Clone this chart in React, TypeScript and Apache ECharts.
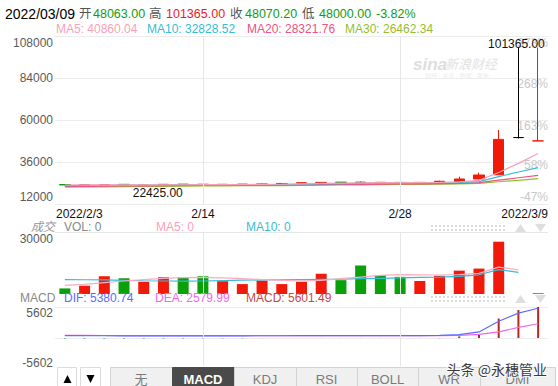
import { useEffect, useRef } from 'react';
import * as echarts from 'echarts';

const FONT = '"Liberation Sans", Arial, "Noto Sans CJK SC", sans-serif';

// ---------- data ----------
const dates = [
  '2022/2/3', '2022/2/4', '2022/2/7', '2022/2/8', '2022/2/9', '2022/2/10', '2022/2/11',
  '2022/2/14', '2022/2/15', '2022/2/16', '2022/2/17', '2022/2/18', '2022/2/21', '2022/2/22',
  '2022/2/23', '2022/2/24', '2022/2/25', '2022/2/28', '2022/3/1', '2022/3/2', '2022/3/3',
  '2022/3/4', '2022/3/7', '2022/3/8', '2022/3/9',
];
const opens = [23100, 22800, 22950, 23250, 22700, 22900, 23350, 23300, 23000, 23150, 23300, 23350, 23800, 24050, 24500, 24500, 24400, 24350, 24200, 24400, 24750, 26300, 28690, 49979, 48063];
const closes = [22900, 23000, 23050, 22950, 22850, 23250, 23100, 23050, 23250, 23350, 23400, 23750, 24150, 24350, 24250, 24250, 24150, 24150, 24350, 25000, 26300, 28580, 48920, 49979, 48070.2];
const lows = [22750, 22700, 22850, 22850, 22425, 22850, 23050, 23000, 22950, 23100, 23250, 23300, 23750, 24000, 24200, 24150, 24100, 24100, 24150, 24350, 24600, 26100, 28500, 49400, 48000];
const highs = [23200, 23100, 23300, 23300, 22950, 23300, 23400, 23350, 23300, 23400, 23600, 23800, 24200, 24400, 24550, 24900, 24450, 24400, 24600, 25300, 27600, 29900, 54300, 101365, 101365];
const flatIndex = 23;

const ma5 = [22850, 22900, 22950, 22950, 22900, 22950, 23000, 23050, 23100, 23150, 23250, 23350, 23550, 23750, 23950, 24100, 24200, 24250, 24300, 24350, 24700, 25500, 30000, 35200, 40860.04];
const ma10 = [22500, 22600, 22700, 22750, 22800, 22850, 22900, 22950, 23000, 23050, 23100, 23150, 23300, 23450, 23600, 23750, 23850, 23950, 24050, 24150, 24300, 24800, 27600, 30300, 32828.52];
const ma20 = [22000, 22100, 22200, 22300, 22400, 22500, 22600, 22650, 22700, 22750, 22800, 22850, 22950, 23050, 23150, 23250, 23350, 23450, 23550, 23650, 23800, 24200, 25600, 27000, 28321.76];
const ma30 = [21600, 21700, 21800, 21900, 22000, 22100, 22200, 22300, 22400, 22450, 22500, 22550, 22650, 22750, 22850, 22950, 23050, 23150, 23250, 23350, 23500, 23800, 24700, 25500, 26462.34];

const volumes = [2700, 4000, 8600, 7600, 5900, 8100, 8100, 8600, 6200, 4800, 6500, 4800, 5900, 9800, 6700, 13800, 9100, 8300, 6300, 8800, 11300, 12300, 25300, 0, 350];
const volMa5 = [4200, 4700, 5500, 6300, 7000, 7600, 7900, 8000, 7800, 7400, 7000, 6600, 6300, 6600, 7400, 8200, 9000, 9400, 9300, 9200, 9400, 10000, 13000, 11700, null];
const volMa10 = [7000, 6900, 6800, 6600, 6400, 6300, 6200, 6300, 6500, 6700, 6800, 6900, 7000, 7100, 7200, 7400, 7600, 7800, 8000, 8200, 8500, 9300, 11800, 10500, null];

const dif = [420, 410, 405, 400, 395, 390, 390, 390, 395, 400, 405, 410, 415, 420, 425, 430, 430, 435, 440, 470, 620, 1100, 3020, 4500, 5380.74];
const dea = [470, 460, 450, 440, 430, 425, 420, 415, 412, 410, 410, 410, 412, 414, 416, 418, 420, 422, 425, 430, 470, 650, 1100, 1930, 2579.99];
const macd = [-120, -110, -100, -100, -90, -90, -80, -70, -60, -50, -20, 0, 10, 10, 10, 10, 10, 10, 10, -40, 300, 630, 3520, 5060, 5601.49];

const priceAxis = { min: 12000, max: 108000, interval: 24000 };
const pctBase = 22830;
const volAxis = { min: 0, max: 30000, interval: 30000 };
const macdAxis = { min: -5602, max: 5602, interval: 5602 };

const highMark = { index: 23, value: 101365, text: '101365.00' };
const lowMark = { index: 4, value: 22425, text: '22425.00' };

const labelIdx = [0, 7, 17, 24];
const tickLabels = ['2022/2/3', '2/14', '2/28', '2022/3/9'];
const gridLineIdx = [7, 17];

const header1 = [
  { t: '2022/03/09', x: 5, c: '#000', s: 14 },
  { t: '开', x: 79, c: '#555', s: 12.5 },
  { t: '48063.00', x: 93, c: '#109d10', s: 12.5 },
  { t: '高', x: 149, c: '#555', s: 12.5 },
  { t: '101365.00', x: 166, c: '#f01a1a', s: 12.5 },
  { t: '收', x: 230, c: '#555', s: 12.5 },
  { t: '48070.20', x: 245, c: '#109d10', s: 12.5 },
  { t: '低', x: 302, c: '#555', s: 12.5 },
  { t: '48000.00', x: 319, c: '#109d10', s: 12.5 },
  { t: '-3.82%', x: 376, c: '#109d10', s: 12.5 },
];
const header2 = [
  { t: 'MA5: 40860.04', x: 56, c: '#fa9fb9' },
  { t: 'MA10: 32828.52', x: 147, c: '#35bcd9' },
  { t: 'MA20: 28321.76', x: 247, c: '#ec5283' },
  { t: 'MA30: 26462.34', x: 345, c: '#98bd2f' },
];
const volLegend = [
  { t: '成交', x: 31, c: '#999' },
  { t: 'VOL: 0', x: 64, c: '#888' },
  { t: 'MA5: 0', x: 156, c: '#fa9fb9' },
  { t: 'MA10: 0', x: 246, c: '#35bcd9' },
];
const macdLegend = [
  { t: 'MACD', x: 20, c: '#888' },
  { t: 'DIF: 5380.74', x: 64, c: '#5a6cff' },
  { t: 'DEA: 2579.99', x: 155, c: '#f066f0' },
  { t: 'MACD: 5601.49', x: 246, c: '#c44848' },
];
const tabs = ['无', 'MACD', 'KDJ', 'RSI', 'BOLL', 'WR', 'DMI'];
const activeTab = 'MACD';

// ---------- styles ----------
const RED = '#f11a0a';
const GREEN = '#0aa00a';
const GRID_COLOR = '#ececec';

function shiftRich(color: string, size: number) {
  return {
    n: { color, fontSize: size, fontFamily: FONT },
    dn: { color, fontSize: size, fontFamily: FONT, padding: [14, 0, 0, 0] },
    dn6: { color, fontSize: size, fontFamily: FONT, padding: [12, 0, 0, 0] },
    dn3: { color, fontSize: size, fontFamily: FONT, padding: [6, 0, 0, 0] },
    up: { color, fontSize: size, fontFamily: FONT, padding: [0, 0, 14, 0] },
    up6: { color, fontSize: size, fontFamily: FONT, padding: [0, 0, 12, 0] },
  };
}

function txt(t: string, x: number, y: number, color: string, size = 12, extra: any = {}) {
  return {
    type: 'text',
    x,
    y,
    z: 50,
    silent: true,
    style: {
      text: t,
      fill: color,
      fontSize: size,
      fontFamily: FONT,
      align: 'left',
      verticalAlign: 'middle',
      textAlign: 'left',
      textVerticalAlign: 'middle',
      ...extra,
    },
  };
}

function dotsAndArrows(y: number) {
  return [
    { type: 'line', z: 50, silent: true, shape: { x1: 431, y1: y - 2, x2: 507, y2: y - 2 }, style: { stroke: '#dcdcdc', lineWidth: 2, lineDash: [2, 2] } },
    { type: 'line', z: 50, silent: true, shape: { x1: 431, y1: y + 2, x2: 507, y2: y + 2 }, style: { stroke: '#dcdcdc', lineWidth: 2, lineDash: [2, 2] } },
    { type: 'polygon', z: 50, silent: true, shape: { points: [[515, y + 4], [526, y + 4], [520.5, y - 4]] }, style: { fill: '#dedede' } },
    { type: 'polygon', z: 50, silent: true, shape: { points: [[535, y - 4], [546, y - 4], [540.5, y + 4]] }, style: { fill: '#dedede' } },
  ];
}

function buildOption() {
  const candleData = dates.map((_, i) => {
    const v = [opens[i], closes[i], lows[i], highs[i]];
    if (i === flatIndex) {
      return { value: v, itemStyle: { color: '#000', color0: '#000', borderColor: '#000', borderColor0: '#000' } };
    }
    return v;
  });
  const volData = volumes.map((v, i) => ({
    value: v,
    itemStyle: { color: closes[i] >= opens[i] ? RED : GREEN },
  }));
  const macdData = macd.map((v) => ({
    value: v,
    itemStyle: { color: v >= 0 ? '#b8251c' : '#2aa65b' },
  }));

  const xAxisBase = (gridIndex: number, showLabel: boolean) => ({
    type: 'category',
    gridIndex,
    data: dates,
    boundaryGap: true,
    axisLine: { show: false },
    axisTick: { show: false },
    splitLine: { show: false },
    axisLabel: showLabel
      ? {
          show: true,
          interval: (i: number) => labelIdx.includes(i),
          margin: 4,
          color: '#111',
          fontSize: 12,
          fontFamily: FONT,
          formatter: (_v: string, i: number) => {
            const k = labelIdx.indexOf(i);
            if (k < 0) return '';
            const t = tickLabels[k];
            if (k === 0) return `{l|${t}}`;
            if (k === labelIdx.length - 1) return `{r|${t}}`;
            return `{c|${t}}`;
          },
          rich: {
            l: { color: '#111', fontSize: 12, fontFamily: FONT, padding: [0, 0, 0, 29] },
            r: { color: '#111', fontSize: 12, fontFamily: FONT, padding: [0, 27, 0, 0] },
            c: { color: '#111', fontSize: 12, fontFamily: FONT },
          },
        }
      : { show: false },
  });

  const vLines = (xi: number, yi: number, extra: any[] = []) => ({
    type: 'line',
    xAxisIndex: xi,
    yAxisIndex: yi,
    data: [],
    z: 1,
    silent: true,
    markLine: {
      symbol: ['none', 'none'],
      silent: true,
      animation: false,
      label: { show: false },
      lineStyle: { color: '#e6e6e6', width: 1, type: 'solid' },
      data: [...gridLineIdx.map((i) => ({ xAxis: i })), ...extra],
    },
  });

  const maLine = (name: string, data: any[], color: string, xi: number, yi: number) => ({
    name,
    type: 'line',
    xAxisIndex: xi,
    yAxisIndex: yi,
    data,
    symbol: 'none',
    smooth: false,
    z: 3,
    lineStyle: { color, width: 1.2 },
    connectNulls: false,
  });

  const graphic: any[] = [];
  header1.forEach((h) => graphic.push(txt(h.t, h.x, 14, h.c, h.s)));
  header2.forEach((h) => graphic.push(txt(h.t, h.x, 28.5, h.c, 12)));
  volLegend.forEach((h, i) => graphic.push(txt(h.t, h.x, 227, h.c, 12, i === 0 ? { fontStyle: 'italic' } : {})));
  macdLegend.forEach((h) => graphic.push(txt(h.t, h.x, 298, h.c, 12)));
  graphic.push(...dotsAndArrows(228));
  graphic.push(...dotsAndArrows(299));

  // sina watermark
  graphic.push(txt('sina', 413, 64, '#dedede', 17, { fontStyle: 'italic', fontWeight: 'bold' }));
  graphic.push(txt('新浪财经', 445, 64, '#e2e2e2', 13, { fontStyle: 'italic' }));
  graphic.push(txt('财经 · 资讯 · 数据 · 服务', 425, 76, '#ececec', 6));

  // bottom tab bar
  graphic.push({ type: 'rect', z: 80, silent: true, shape: { x: 55, y: 366, width: 503, height: 20 }, style: { fill: '#fff' } });
  graphic.push({ type: 'rect', z: 81, silent: true, shape: { x: 57.5, y: 367.5, width: 19, height: 19 }, style: { fill: '#fff', stroke: '#dcdcdc' } });
  graphic.push({ type: 'rect', z: 81, silent: true, shape: { x: 80.5, y: 367.5, width: 20, height: 19 }, style: { fill: '#fff', stroke: '#dcdcdc' } });
  graphic.push({ type: 'polygon', z: 82, silent: true, shape: { points: [[63.5, 383], [71.5, 383], [67.5, 375]] }, style: { fill: '#000' } });
  graphic.push({ type: 'polygon', z: 82, silent: true, shape: { points: [[86.5, 375], [94.5, 375], [90.5, 383]] }, style: { fill: '#000' } });
  const tabEdges = [110, 172, 234, 296, 357, 418, 480, 555];
  tabs.forEach((t, i) => {
    const x0 = tabEdges[i];
    const x1 = tabEdges[i + 1];
    const active = t === activeTab;
    graphic.push({
      type: 'rect',
      z: 81,
      silent: true,
      shape: { x: x0 + 0.5, y: 367.5, width: x1 - x0, height: 19 },
      style: { fill: active ? '#4a4a4a' : '#f0f0f0', stroke: active ? '#4a4a4a' : '#d2d2d2' },
    });
    graphic.push({
      type: 'text',
      z: 83,
      silent: true,
      x: (x0 + x1) / 2,
      y: 379,
      style: {
        text: t,
        fill: active ? '#fff' : '#7a7a7a',
        fontSize: 13,
        fontWeight: active ? 'bold' : 'normal',
        fontFamily: FONT,
        align: 'center',
        verticalAlign: 'middle',
        textAlign: 'center',
        textVerticalAlign: 'middle',
      },
    });
  });
  // toutiao watermark
  graphic.push({
    type: 'text',
    z: 90,
    silent: true,
    x: 547,
    y: 369,
    style: {
      text: '头条 @永穗管业',
      fill: '#3a3a3a',
      fontSize: 14,
      fontFamily: '"Noto Sans CJK SC", sans-serif',
      align: 'right',
      verticalAlign: 'middle',
      textAlign: 'right',
      textVerticalAlign: 'middle',
      stroke: 'rgba(255,255,255,0.85)',
      lineWidth: 2,
    },
  });

  return {
    animation: false,
    backgroundColor: '#fff',
    textStyle: { fontFamily: FONT },
    grid: [
      { left: 55, right: 10, top: 36, height: 168 },
      { left: 55, right: 10, top: 232, height: 62 },
      { left: 55, right: 10, top: 307, height: 62 },
    ],
    xAxis: [xAxisBase(0, true), xAxisBase(1, false), xAxisBase(2, false)],
    yAxis: [
      {
        type: 'value',
        gridIndex: 0,
        position: 'left',
        ...priceAxis,
        axisLine: { show: false },
        axisTick: { show: false },
        splitLine: { show: true, lineStyle: { color: GRID_COLOR, width: 1 } },
        axisLabel: {
          margin: 2,
          color: '#5a5a5a',
          fontSize: 12,
          fontFamily: FONT,
          formatter: (v: number) => (v === priceAxis.max ? `{dn|${v}}` : v === priceAxis.min ? `{up|${v}}` : `{n|${v}}`),
          rich: shiftRich('#5a5a5a', 12),
        },
      },
      {
        type: 'value',
        gridIndex: 0,
        position: 'right',
        ...priceAxis,
        axisLine: { show: false },
        axisTick: { show: false },
        splitLine: { show: false },
        axisLabel: {
          inside: true,
          margin: 0,
          color: '#c8c8c8',
          fontSize: 12,
          fontFamily: FONT,
          formatter: (v: number) => {
            const t = `${Math.round((v / pctBase - 1) * 100)}%`;
            if (v === priceAxis.max) return `{dn|${t}}`;
            if (v === priceAxis.min) return `{up|${t}}`;
            if (v === priceAxis.min + priceAxis.interval) return `{dn3|${t}}`;
            return `{dn6|${t}}`;
          },
          rich: shiftRich('#c8c8c8', 12),
        },
      },
      {
        type: 'value',
        gridIndex: 1,
        ...volAxis,
        axisLine: { show: false },
        axisTick: { show: false },
        splitLine: { show: false },
        axisLabel: {
          margin: 2,
          color: '#5a5a5a',
          fontSize: 12,
          fontFamily: FONT,
          formatter: (v: number) => (v === volAxis.max ? `{dn|${v}}` : ''),
          rich: shiftRich('#5a5a5a', 12),
        },
      },
      {
        type: 'value',
        gridIndex: 2,
        ...macdAxis,
        axisLine: { show: false },
        axisTick: { show: false },
        splitLine: { show: true, lineStyle: { color: GRID_COLOR, width: 1 } },
        axisLabel: {
          margin: 2,
          color: '#5a5a5a',
          fontSize: 12,
          fontFamily: FONT,
          formatter: (v: number) => (v === macdAxis.max ? `{dn6|${v}}` : v === macdAxis.min ? `{up6|${v}}` : ''),
          rich: shiftRich('#5a5a5a', 12),
        },
      },
    ],
    series: [
      vLines(0, 0),
      {
        name: 'K',
        type: 'candlestick',
        xAxisIndex: 0,
        yAxisIndex: 0,
        data: candleData,
        barWidth: 11,
        z: 2,
        itemStyle: { color: RED, color0: GREEN, borderColor: RED, borderColor0: GREEN, borderWidth: 1 },
        markPoint: {
          symbol: 'circle',
          symbolSize: 1,
          silent: true,
          animation: false,
          itemStyle: { color: 'rgba(0,0,0,0)' },
          label: { show: true, color: '#111', fontSize: 12, fontFamily: FONT, formatter: (p: any) => p.name },
          data: [
            { name: highMark.text, coord: [highMark.index, highMark.value], label: { offset: [-2, -4] } },
            { name: lowMark.text, coord: [lowMark.index, lowMark.value], label: { offset: [14, 7] } },
          ],
        },
      },
      maLine('MA30', ma30, '#98bd2f', 0, 0),
      maLine('MA20', ma20, '#ec5283', 0, 0),
      maLine('MA10', ma10, '#35bcd9', 0, 0),
      maLine('MA5', ma5, '#fa9fb9', 0, 0),
      {
        ...vLines(1, 2),
        markLine: {
          ...vLines(1, 2).markLine,
          data: [...gridLineIdx.map((i) => ({ xAxis: i })), { yAxis: volAxis.max }],
        },
      },
      {
        name: 'VOL',
        type: 'bar',
        xAxisIndex: 1,
        yAxisIndex: 2,
        data: volData,
        barWidth: 11,
        z: 2,
      },
      maLine('VMA10', volMa10, '#35bcd9', 1, 2),
      maLine('VMA5', volMa5, '#fbaac0', 1, 2),
      vLines(2, 3),
      {
        name: 'MACD',
        type: 'bar',
        xAxisIndex: 2,
        yAxisIndex: 3,
        data: macdData,
        barWidth: 2,
        z: 2,
      },
      maLine('DEA', dea, '#f066f0', 2, 3),
      maLine('DIF', dif, '#5a6cff', 2, 3),
    ],
    graphic,
  };
}

export default function App() {
  const ref = useRef<HTMLDivElement>(null);
  useEffect(() => {
    const chart = echarts.init(ref.current!, null, { renderer: 'svg' });
    chart.setOption(buildOption() as any);
    return () => chart.dispose();
  }, []);
  return (
    <div
      ref={ref}
      style={{ position: 'fixed', left: 0, top: 0, width: 558, height: 386, background: '#fff' }}
    />
  );
}
